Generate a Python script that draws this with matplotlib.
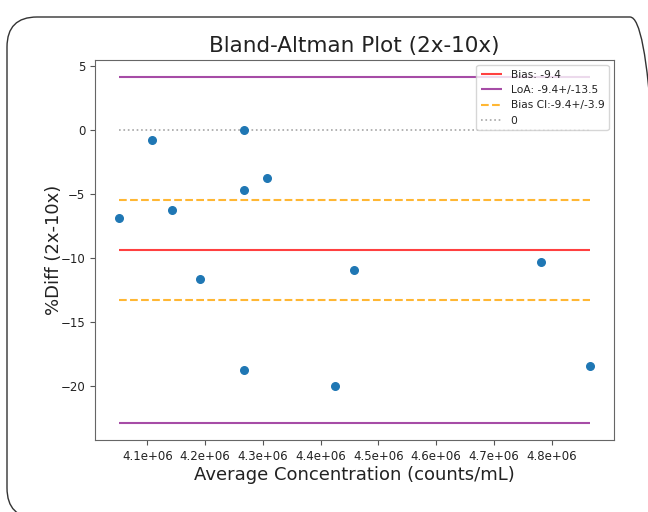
import matplotlib.pyplot as plt
import matplotlib.ticker as mticker
from matplotlib.patches import FancyBboxPatch

# average concentration (counts/mL) and % difference, 2x vs 10x
avg_conc = [4.050e6, 4.107e6, 4.143e6, 4.191e6, 4.268e6, 4.268e6,
            4.268e6, 4.3075e6, 4.424e6, 4.4585e6, 4.781e6, 4.867e6]
pct_diff = [-6.9, -0.8, -6.3, -11.7, 0.0, -4.7,
            -18.75, -3.75, -20.0, -10.95, -10.3, -18.5]

bias = -9.4
loa = 13.5
bias_ci = 3.9

xticks = [4.1e6, 4.2e6, 4.3e6, 4.4e6, 4.5e6, 4.6e6, 4.7e6, 4.8e6]
yticks = [5, 0, -5, -10, -15, -20]

title = 'Bland-Altman Plot (2x-10x)'
xlabel = 'Average Concentration (counts/mL)'
ylabel = '%Diff (2x-10x)'

txt = '#222222'
plt.rcParams['text.color'] = txt
plt.rcParams['axes.labelcolor'] = txt
plt.rcParams['xtick.color'] = '#555555'
plt.rcParams['ytick.color'] = '#555555'
plt.rcParams['xtick.labelcolor'] = txt
plt.rcParams['ytick.labelcolor'] = txt

fig = plt.figure(figsize=(6.48, 5.12), dpi=100)
ax = fig.add_axes([0.1466, 0.1406, 0.8009, 0.7422])

xmin, xmax = min(avg_conc), max(avg_conc)
ax.scatter(avg_conc, pct_diff, s=30, color='tab:blue', zorder=3)
ax.hlines(bias, xmin, xmax, color='red', alpha=0.75, lw=1.5,
          label='Bias: %.1f' % bias)
ax.hlines([bias + loa, bias - loa], xmin, xmax, color='purple', alpha=0.7,
          lw=1.5, label='LoA: %.1f+/-%.1f' % (bias, loa))
ax.hlines([bias + bias_ci, bias - bias_ci], xmin, xmax, color='orange',
          alpha=0.8, lw=1.5, linestyles='--',
          label='Bias CI:%.1f+/-%.1f' % (bias, bias_ci))
ax.hlines(0, xmin, xmax, color='gray', alpha=0.7, lw=1.2, linestyles=':',
          label='0')

ax.set_xticks(xticks)
ax.set_yticks(yticks)
ax.xaxis.set_major_formatter(mticker.FormatStrFormatter('%.1e'))
ax.tick_params(labelsize=8.5)
for sp in ax.spines.values():
    sp.set_color('#666666')

ax.set_title(title, fontsize=15.5)
ax.set_xlabel(xlabel, fontsize=13, labelpad=2)
ax.set_ylabel(ylabel, fontsize=13, labelpad=-1.5)
ax.legend(loc='upper right', fontsize=7.7)

# rounded frame of the screenshot
frame = FancyBboxPatch((7, -6), 653, 501,
                       boxstyle='round,pad=0,rounding_size=30',
                       transform=None, fill=False, ec='#333333', lw=1.0,
                       clip_on=False)
fig.add_artist(frame)

plt.savefig('out.png', dpi=100)
